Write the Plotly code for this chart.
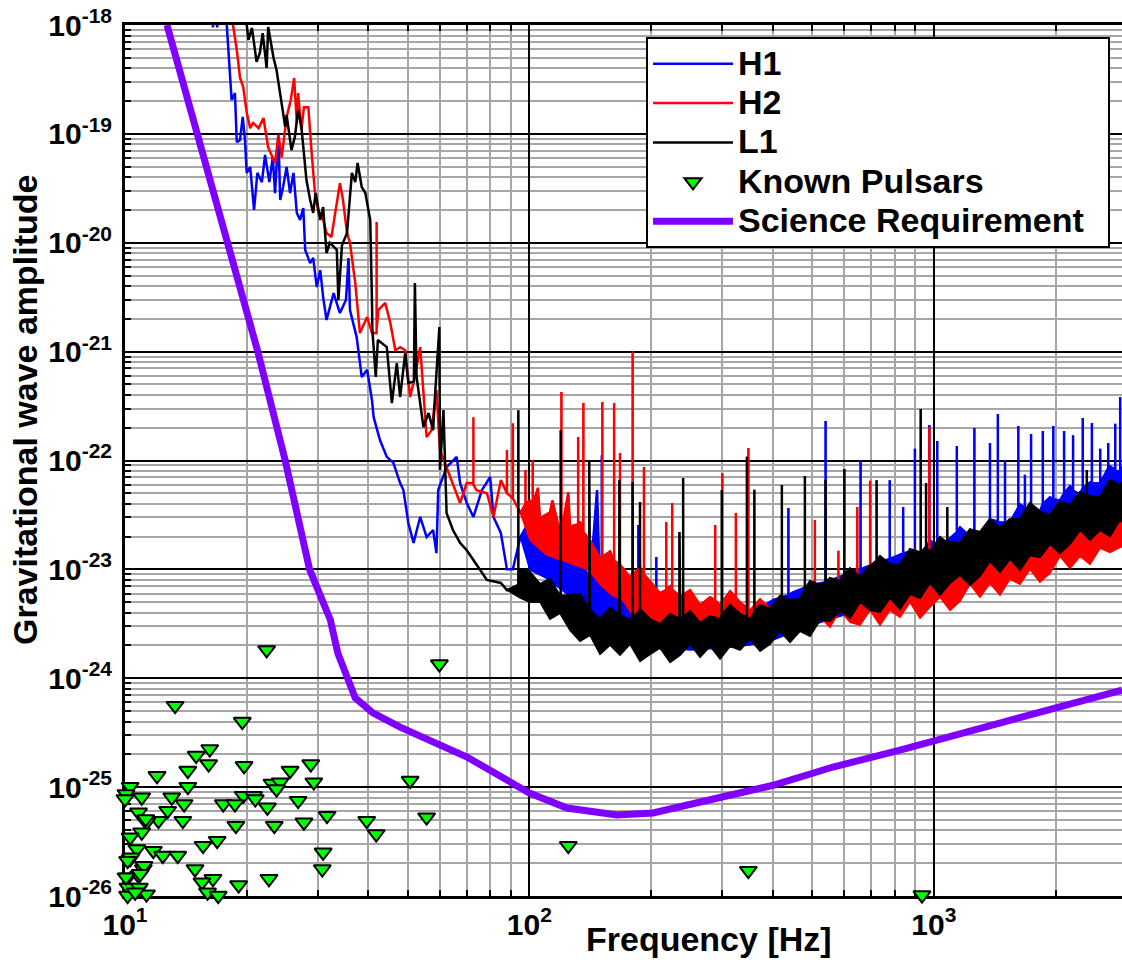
import math
import plotly.graph_objects as go

# ---------------- data ----------------
# H1 (blue): trace (upper envelope incl. lines) and the floor of its dense band
H1_FREQ = [
    16.4, 16.5, 16.6, 16.8, 16.9, 17.0, 17.7, 17.85,
    18.2, 18.35, 18.7, 18.9, 19.25, 19.55, 19.8, 20.0,
    20.4, 20.85, 21.25, 21.8, 22.2, 22.75, 23.2, 23.5,
    23.95, 24.2, 24.6, 25.1, 25.6, 26.1, 26.6, 27.1,
    27.6, 27.9, 28.7, 29.2, 29.8, 30.4, 30.9, 31.5,
    32.8, 34.0, 35.2, 35.7, 36.0, 37.4, 38.5, 39.7,
    40.8, 41.2, 42.7, 44.4, 46.1, 47.9, 48.8, 50.2,
    51.7, 53.7, 55.7, 57.8, 58.9, 59.5, 62.4, 66.1,
    67.4, 70.0, 72.7, 76.3, 80.0, 81.5, 85.0, 88.0,
    91.0, 95.0,
    100.3, 106.2, 109, 112.4, 119.0, 126.0, 133.4, 141.2,
    147, 149.5, 151, 151, 151, 158.3, 167.5, 177.4,
    186, 186, 186, 187.8, 198.8, 206, 206, 206,
    215, 230, 250, 270, 300, 330, 350, 380,
    400, 437, 437, 437, 450, 500, 540, 540,
    540, 600, 659, 659, 659, 700, 778, 778,
    778, 800, 840, 840, 840, 873.3, 898, 898,
    898, 924.6, 975, 975, 975, 978.6, 1020, 1020,
    1020, 1036, 1097, 1140, 1140, 1140, 1161, 1229,
    1260, 1260, 1260, 1301, 1377, 1377, 1377, 1440,
    1440, 1440, 1458, 1500, 1500, 1500, 1543, 1618,
    1618, 1618, 1634, 1680, 1680, 1680, 1729, 1740,
    1740, 1740, 1830, 1860, 1860, 1860, 1938, 1975,
    1975, 1975, 2051, 2100, 2100, 2100, 2172, 2210,
    2210, 2210, 2299, 2335, 2335, 2335, 2434, 2460,
    2460, 2460, 2576, 2580, 2580, 2580, 2700, 2700,
    2700, 2727, 2810, 2810, 2810, 2887, 2890, 2890,
    2890, 2950,
]
H1_AMP = [
    1.3e-18, 9.5e-19, 1.3e-18, 1.3e-18, 9.5e-19, 1.3e-18, 1.3e-18, 1.0e-18,
    3.3e-19, 2.05e-19, 2.37e-19, 8.4e-20, 8.8e-20, 1.43e-19, 8.8e-20, 4.38e-20,
    4.96e-20, 2.0e-20, 4.38e-20, 3.6e-20, 6.4e-20, 3.6e-20, 6.1e-20, 2.86e-20,
    1.0e-19, 2.47e-20, 3.25e-20, 4.96e-20, 2.86e-20, 4.38e-20, 1.88e-20, 1.62e-20,
    2.08e-20, 8.6e-21, 6.5e-21, 7.25e-21, 3.92e-21, 5.6e-21, 3.17e-21, 1.95e-21,
    3.45e-21, 2.26e-21, 3.0e-21, 7.25e-21, 2.41e-21, 1.36e-21, 5.85e-22, 6.8e-22,
    3.6e-22, 2.5e-22, 1.54e-22, 1.08e-22, 9.5e-23, 6.2e-23, 5.35e-23, 2.67e-23,
    1.75e-23, 3.03e-23, 1.98e-23, 2.3e-23, 1.41e-23, 5.35e-23, 8.7e-23, 1.08e-22,
    6.2e-23, 4.07e-23, 3.03e-23, 5.35e-23, 7.05e-23, 3.03e-23, 2.16e-23, 1.0e-23,
    1.0e-23, 1.98e-23,
    2.82e-23, 1.85e-23, 3.16e-23, 2.43e-23, 1.21e-23, 1.26e-23, 1.37e-23, 7.62e-24,
    5.35e-23, 6.04e-24, 6.5e-24, 1.12e-22, 6.5e-24, 7.95e-24, 5.43e-24, 4.40e-24,
    5.0e-24, 2.56e-23, 5.0e-24, 5.91e-24, 4.59e-24, 5.0e-24, 1.3e-23, 5.0e-24,
    4.91e-24, 5.5e-24, 4.41e-24, 4.9e-24, 4.06e-24, 4.5e-24, 4.06e-24, 4.6e-24,
    5.23e-24, 5.8e-24, 3.66e-23, 5.8e-24, 6.19e-24, 7.18e-24, 7.6e-24, 2.3e-22,
    7.6e-24, 8.85e-24, 1.0e-23, 1.0e-22, 1.0e-23, 1.1e-23, 1.25e-23, 6.6e-23,
    1.25e-23, 1.3e-23, 1.4e-23, 3.74e-23, 1.4e-23, 1.46e-23, 1.4e-23, 1.28e-22,
    1.4e-23, 1.34e-23, 1.8e-23, 2.12e-22, 1.8e-23, 1.85e-23, 1.6e-23, 1.51e-22,
    1.6e-23, 1.50e-23, 1.93e-23, 2.2e-23, 1.36e-22, 2.2e-23, 2.43e-23, 2.01e-23,
    2.0e-23, 1.99e-22, 2.0e-23, 1.97e-23, 2.88e-23, 1.45e-22, 2.88e-23, 2.75e-23,
    2.67e-22, 2.75e-23, 2.70e-23, 2.7e-23, 1.0e-22, 2.7e-23, 2.70e-23, 3.7e-23,
    2.07e-22, 3.7e-23, 3.95e-23, 3.7e-23, 7.4e-23, 3.7e-23, 3.56e-23, 3.5e-23,
    1.75e-22, 3.5e-23, 3.41e-23, 4.0e-23, 1.87e-22, 4.0e-23, 4.59e-23, 4.4e-23,
    2.07e-22, 4.4e-23, 4.30e-23, 5.0e-23, 1.87e-22, 5.0e-23, 5.79e-23, 5.3e-23,
    1.71e-22, 5.3e-23, 4.89e-23, 5.6e-23, 2.46e-22, 5.6e-23, 6.30e-23, 6.2e-23,
    2.21e-22, 6.2e-23, 6.17e-23, 6.2e-23, 1.28e-22, 6.2e-23, 8.5e-23, 1.45e-22,
    8.5e-23, 8.83e-23, 8.2e-23, 2.17e-22, 8.2e-23, 7.95e-23, 8.0e-23, 3.83e-22,
    8.0e-23, 9.02e-23,
]
H1_FLOOR_FREQ = [95, 100.3, 110, 120, 130, 140, 150, 160, 170, 180, 200, 220, 250, 300,
                 350, 400, 450, 500, 600, 700, 800, 1000, 1200, 1500, 1800, 2000, 2400, 2950]
H1_FLOOR_AMP = [1.98e-23, 9.87e-24, 8.32e-24, 6.46e-24, 5.23e-24, 4.23e-24, 3.43e-24,
                2.89e-24, 2.5e-24, 2.24e-24, 2.02e-24, 1.9e-24, 1.82e-24, 1.9e-24,
                2.02e-24, 2.24e-24, 2.66e-24, 3.08e-24, 3.81e-24, 4.7e-24, 5.46e-24,
                7.18e-24, 9.24e-24, 1.22e-23, 1.57e-23, 1.78e-23, 2.3e-23, 2.9e-23]

# H2 (red)
H2_FREQ = [
    18.4, 18.5, 18.9, 19.25, 19.6, 20.0, 20.4, 20.75,
    21.4, 22.0, 22.6, 23.1, 23.5, 23.95, 24.4, 25.1,
    25.7, 26.2, 26.6, 26.8, 27.3, 27.7, 28.4, 29.0,
    29.5, 30.1, 30.6, 31.5, 32.4, 33.1, 34.0, 34.6,
    35.4, 36.0, 37.1, 38.1, 39.7, 40.8, 41.9, 41.9,
    41.9, 42.3, 44.0, 45.3, 46.6, 47.9, 49.3, 50.7,
    52.1, 53.7, 54.7, 55.7, 57.3, 58.9, 60.1, 62.4,
    64.7, 67.4, 70.0, 72.7, 72.7, 72.7, 74.0, 78.5,
    81.5, 85.0, 88.0, 88.0, 88.0, 91.0, 91.0, 91.0,
    95.0, 97.8, 97.8, 97.8,
    100.3, 101.9, 101.9, 101.9, 105, 106.2, 112.4, 114,
    119.0, 120, 120, 120, 124.8, 126.0, 132, 132,
    132, 133.4, 136, 136, 136, 141.2, 149.5, 151.5,
    151.5, 151.5, 158.3, 162, 162, 162, 167.5, 167.5,
    167.5, 177.4, 180, 180, 180, 187.8, 192, 192,
    192, 198.8, 210.4, 218, 218, 218, 222.8, 225.5,
    225.5, 225.5, 235.9, 249.7, 264.3, 279.8, 288, 288,
    288, 296.2, 300, 300, 300, 313.5, 324, 324,
    324, 331.9, 348, 348, 348, 351.4, 371.9, 393.6,
    416.7, 441.1, 467.0, 494.3, 508, 508, 508, 581,
    581, 581, 647, 647, 647, 696, 696, 696,
    800, 900, 975, 975, 975, 1000, 1200, 1500,
    1800, 2000, 2400, 2950,
]
H2_AMP = [
    1.2e-18, 1.0e-18, 5.9e-19, 3.26e-19, 2.7e-19, 1.56e-19, 1.13e-19, 1.26e-19,
    1.13e-19, 1.4e-19, 7.5e-20, 6.1e-20, 5.4e-20, 9.8e-20, 6.1e-20, 1.43e-19,
    2.05e-19, 3.26e-19, 1.26e-19, 2.37e-19, 1.09e-19, 1.76e-19, 1.76e-19, 6.1e-20,
    2.86e-20, 1.88e-20, 1.88e-20, 1.23e-20, 1.13e-20, 1.88e-20, 3.52e-20, 2.47e-20,
    1.23e-20, 1.0e-20, 4.27e-21, 1.48e-21, 2.08e-21, 1.48e-21, 1.48e-21, 1.55e-20,
    1.6e-21, 2.41e-21, 2.8e-21, 1.83e-21, 1.03e-21, 1.1e-21, 1.03e-21, 3.83e-22,
    5.85e-22, 1.1e-21, 4.43e-22, 1.64e-22, 1.9e-22, 4.43e-22, 1.25e-22, 8.7e-23,
    6.2e-23, 4.07e-23, 6.2e-23, 6.2e-23, 2.5e-22, 6.0e-23, 5.35e-23, 5.0e-23,
    3.03e-23, 6.6e-23, 5.0e-23, 1.25e-22, 5.0e-23, 4.5e-23, 2.2e-22, 4.5e-23,
    3.3e-23, 4.0e-23, 8.2e-23, 4.0e-23,
    4.30e-23, 4.0e-23, 1.0e-22, 4.0e-23, 5.6e-23, 2.94e-23, 3.34e-23, 4.3e-23,
    2.19e-23, 2.2e-23, 4.26e-22, 2.2e-23, 5.1e-23, 2.48e-23, 2.6e-23, 1.64e-22,
    2.6e-23, 2.76e-23, 2.2e-23, 3.37e-22, 2.2e-23, 1.85e-23, 1.26e-23, 1.3e-23,
    3.45e-22, 1.3e-23, 1.46e-23, 1.2e-23, 3.37e-22, 1.2e-23, 1.11e-23, 1.17e-22,
    1.11e-23, 8.47e-24, 9.0e-24, 1.0e-21, 9.0e-24, 1.04e-23, 9.0e-24, 8.7e-23,
    9.0e-24, 7.78e-24, 6.04e-24, 6.5e-24, 2.72e-23, 6.5e-24, 7.00e-24, 6.5e-24,
    4.07e-23, 6.5e-24, 5.67e-24, 6.43e-24, 4.68e-24, 5.55e-24, 5.2e-24, 2.56e-23,
    5.2e-24, 4.68e-24, 5.0e-24, 7.65e-23, 5.0e-24, 6.30e-24, 5.5e-24, 3.3e-23,
    5.5e-24, 4.99e-24, 4.3e-24, 1.3e-22, 4.3e-24, 4.21e-24, 5.32e-24, 4.30e-24,
    5.55e-24, 4.59e-24, 4.30e-24, 6.57e-24, 6.5e-24, 2.84e-23, 6.5e-24, 7.0e-24,
    1.48e-23, 7.0e-24, 7.5e-24, 3.74e-23, 7.5e-24, 8.0e-24, 6.5e-23, 8.0e-24,
    9.1e-24, 1.03e-23, 1.1e-23, 2.03e-22, 1.1e-23, 1.14e-23, 1.36e-23, 1.67e-23,
    1.95e-23, 2.2e-23, 2.6e-23, 3.3e-23,
]
H2_FLOOR_FREQ = [
    95, 100.3, 110, 120, 130, 140, 150, 160, 170, 180, 200, 220, 250, 300, 350, 400, 450,
    494.3, 523.3, 553.9, 586.3, 620.7, 657.1, 695.5, 736.3, 779.4, 825.0,
    873.3, 924.6, 978.6, 1036, 1097, 1161, 1229, 1301, 1377, 1458,
    1543, 1634, 1729, 1830, 1938, 2051, 2172, 2299, 2434, 2576,
    2727, 2887, 2950,
]
H2_FLOOR_AMP = [
    3.3e-23, 1.86e-23, 1.36e-23, 1.22e-23, 1.1e-23, 9.87e-24, 7.18e-24, 5.81e-24, 5.23e-24,
    3.81e-24, 2.77e-24, 2.5e-24, 2.5e-24, 2.66e-24, 2.89e-24, 2.89e-24, 2.77e-24,
    3.07e-24, 3.63e-24, 2.94e-24, 4.21e-24, 3.27e-24, 3.07e-24, 4.21e-24, 3.07e-24, 4.21e-24, 3.63e-24,
    4.99e-24, 3.56e-24, 4.49e-24, 5.55e-24, 4.21e-24, 5.10e-24, 7.30e-24, 5.55e-24, 7.46e-24, 5.79e-24,
    8.12e-24, 7.30e-24, 1.0e-23, 7.62e-24, 9.22e-24, 1.32e-23, 1.02e-23, 1.32e-23, 1.11e-23, 1.56e-23,
    1.43e-23, 1.59e-23, 1.63e-23,
]

# L1 (black)
L1_FREQ = [
    19.8, 20.0, 20.2, 20.6, 21.15, 21.55, 21.9, 22.4,
    22.6, 23.3, 23.7, 24.2, 24.9, 25.1, 25.8, 26.3,
    26.8, 27.3, 28.1, 28.7, 29.2, 29.6, 30.4, 30.9,
    31.5, 32.1, 33.4, 33.7, 34.4, 35.4, 36.4, 37.1,
    37.6, 38.5, 39.3, 39.7, 40.4, 40.8, 40.9, 41.7,
    42.2, 44.4, 45.7, 47.0, 47.9, 49.3, 50.2, 51.8,
    52.1, 52.6, 54.7, 56.3, 57.8, 58.4, 59.9, 60.1,
    61.3, 62.4, 64.7, 67.4, 70.0, 72.7, 75.5, 78.5,
    85.0, 88.0, 93.9, 93.9, 93.9,
    95, 100.3, 106.2, 112.4, 119.0, 119.5, 119.5, 119.5,
    126.0, 133.4, 140.6, 140.6, 140.6, 141.2, 149.5, 158.3,
    166.9, 166.9, 166.9, 167.5, 177.4, 180, 180, 180,
    187.7, 187.7, 187.7, 187.8, 198.8, 210.4, 222.8, 235,
    235, 235, 235.9, 240, 240, 240, 249.7, 264.3,
    279.8, 296.2, 299, 299, 299, 313.5, 331.9, 345,
    345, 345, 351.4, 360, 360, 360, 371.9, 393.6,
    416.7, 421, 421, 421, 441.1, 467.0, 480, 480,
    480, 494.3, 523.3, 540, 540, 540, 553.9, 586.3,
    601, 601, 601, 620.7, 657.1, 695.5, 722, 722,
    722, 736.3, 779.4, 825.0, 873.3, 924.6, 928, 928,
    928, 957, 957, 957, 978.6, 1036, 1080, 1080,
    1080, 1097, 1161, 1229, 1301, 1377, 1458, 1543,
    1634, 1729, 1830, 1938, 2051, 2172, 2299, 2390,
    2390, 2390, 2434, 2576, 2727, 2887, 2950,
]
L1_AMP = [
    1.1e-18, 1.0e-18, 7.3e-19, 9.4e-19, 4.58e-19, 5.53e-19, 8.4e-19, 4.03e-19,
    9.6e-19, 4.98e-19, 3.86e-19, 2.37e-19, 1.16e-19, 1.49e-19, 7.1e-20, 9.35e-20,
    1.66e-19, 1.16e-19, 3.77e-20, 2.47e-20, 1.88e-20, 2.86e-20, 1.62e-20, 2.13e-20,
    8.05e-21, 1.0e-20, 8.6e-21, 2.97e-21, 9.5e-21, 1.23e-20, 4.38e-20, 3.6e-20,
    5.4e-20, 3.25e-20, 2.86e-20, 2.32e-20, 1.62e-20, 2.97e-21, 1.58e-21, 5.85e-22,
    1.28e-21, 1.1e-21, 3.37e-22, 7.85e-22, 3.83e-22, 9.7e-22, 5.15e-22, 5.3e-22,
    4.27e-21, 5.85e-22, 2.03e-22, 2.73e-22, 1.9e-22, 3.83e-22, 1.68e-21, 8.2e-23,
    2.9e-22, 3.3e-23, 2.3e-23, 1.75e-23, 1.5e-23, 1.22e-23, 1.0e-23, 8.0e-24,
    7.5e-24, 6.45e-24, 7.2e-24, 2.9e-22, 7.2e-24,
    1.0e-23, 9.41e-24, 7.30e-24, 8.12e-24, 5.67e-24, 5.7e-24, 1.9e-22, 5.7e-24,
    5.79e-24, 5.91e-24, 4.3e-24, 1.0e-22, 4.3e-24, 4.21e-24, 3.48e-24, 4.40e-24,
    3.8e-24, 6.6e-23, 3.8e-24, 3.79e-24, 3.41e-24, 3.6e-24, 6.3e-23, 3.6e-24,
    4.2e-24, 4.15e-23, 4.2e-24, 4.30e-24, 3.48e-24, 3.13e-24, 3.87e-24, 3.5e-24,
    2.2e-23, 3.5e-24, 3.41e-24, 3.6e-24, 6.9e-23, 3.6e-24, 4.13e-24, 3.20e-24,
    3.71e-24, 3.48e-24, 3.8e-24, 5.35e-23, 3.8e-24, 4.68e-24, 3.87e-24, 3.6e-24,
    1.08e-22, 3.6e-24, 3.48e-24, 4.0e-24, 5.4e-23, 4.0e-24, 4.68e-24, 4.30e-24,
    5.67e-24, 5.6e-24, 5.95e-23, 5.6e-24, 5.21e-24, 5.32e-24, 6.5e-24, 7.2e-23,
    6.5e-24, 7.78e-24, 7.15e-24, 7.6e-24, 6.6e-23, 7.6e-24, 8.29e-24, 7.78e-24,
    9.0e-24, 8.35e-23, 9.0e-24, 1.02e-23, 8.47e-24, 1.07e-23, 1.2e-23, 6.6e-23,
    1.2e-23, 1.32e-23, 1.11e-23, 1.09e-23, 1.53e-23, 1.43e-23, 1.43e-23, 2.97e-22,
    1.43e-23, 1.6e-23, 6.2e-23, 1.6e-23, 1.43e-23, 1.97e-23, 1.75e-23, 3.74e-23,
    1.75e-23, 1.77e-23, 1.73e-23, 2.33e-23, 2.19e-23, 2.88e-23, 2.38e-23, 2.88e-23,
    2.88e-23, 4.04e-23, 3.41e-23, 3.13e-23, 4.21e-23, 3.87e-23, 5.10e-23, 4.8e-23,
    8.2e-23, 4.8e-23, 4.68e-23, 4.59e-23, 6.57e-23, 5.91e-23, 6.57e-23,
]
L1_FLOOR_FREQ = [
    88, 95, 100.3, 106.2, 112.4, 119.0, 126.0, 133.4, 141.2, 149.5, 158.3,
    167.5, 177.4, 187.8, 198.8, 210.4, 222.8, 235.9, 249.7, 264.3, 279.8,
    296.2, 313.5, 331.9, 351.4, 371.9, 393.6, 416.7, 441.1, 467.0, 494.3,
    523.3, 553.9, 586.3, 620.7, 657.1, 695.5, 736.3, 779.4, 825.0, 873.3,
    924.6, 978.6, 1036, 1097, 1161, 1229, 1301, 1377, 1458, 1543,
    1634, 1729, 1830, 1938, 2051, 2172, 2299, 2434, 2576, 2727,
    2887, 2950,
]
L1_FLOOR_AMP = [
    6.45e-24, 5.46e-24, 4.99e-24, 4.99e-24, 3.48e-24, 3.95e-24, 2.76e-24, 2.19e-24, 2.48e-24, 1.66e-24, 2.01e-24,
    1.63e-24, 2.05e-24, 1.43e-24, 1.66e-24, 1.89e-24, 1.40e-24, 1.63e-24, 2.05e-24, 1.56e-24, 1.97e-24,
    1.50e-24, 1.97e-24, 1.81e-24, 2.28e-24, 1.77e-24, 2.05e-24, 2.70e-24, 2.14e-24, 2.70e-24, 2.43e-24,
    3.41e-24, 3.34e-24, 4.13e-24, 3.56e-24, 4.99e-24, 4.21e-24, 4.04e-24, 5.43e-24, 4.30e-24, 5.91e-24,
    5.43e-24, 7.46e-24, 5.79e-24, 7.46e-24, 8.83e-24, 7.15e-24, 8.65e-24, 1.18e-23, 9.41e-24, 1.24e-23,
    9.82e-24, 1.34e-23, 1.29e-23, 1.70e-23, 1.40e-23, 1.70e-23, 2.28e-23, 1.85e-23, 2.28e-23, 2.01e-23,
    2.82e-23, 2.65e-23,
]

# Known pulsars (upper limits)
PULSAR_FREQ = [
    22.4, 13.3, 19.5, 16.2, 15.0, 16.1, 14.3, 19.7, 28.8, 12.0,
    25.6, 14.3, 10.3, 23.1, 24.2, 23.7, 29.3, 11.0, 13.05, 19.6,
    20.8, 21.0, 17.5, 18.7, 14.0, 26.8, 22.5, 12.75, 10.8, 31.6,
    12.1, 13.9, 11.3, 18.8, 23.4, 27.7, 11.0, 10.3, 16.9, 15.6,
    10.7, 11.75, 12.4, 13.5, 30.9, 10.3, 14.9, 30.75, 11.1, 10.8,
    16.5, 22.7, 10.17, 15.5, 19.1, 16.0, 17.0, 10.8, 11.3, 10.17,
    10.06, 11.25, 10.35, 10.15, 11.14, 10.06, 10.9, 10.85, 10.15, 10.6,
    50.7, 39.6, 41.8, 55.7, 59.9, 124.8, 347.8, 935, 10.0,
]
PULSAR_AMP = [
    1.82e-24, 5.6e-25, 4.0e-25, 2.24e-25, 1.95e-25, 1.63e-25, 1.42e-25, 1.57e-25, 1.63e-25, 1.27e-25,
    1.42e-25, 1.01e-25, 1.01e-25, 1.08e-25, 1.11e-25, 9.6e-26, 1.11e-25, 8.07e-26, 8.07e-26, 8.35e-26,
    8.35e-26, 7.78e-26, 7.0e-26, 7.0e-26, 7.0e-26, 7.5e-26, 6.53e-26, 6.08e-26, 5.87e-26, 5.47e-26,
    4.92e-26, 4.92e-26, 4.75e-26, 4.42e-26, 4.42e-26, 4.75e-26, 3.85e-26, 3.46e-26, 3.22e-26, 2.9e-26,
    2.7e-26, 2.61e-26, 2.35e-26, 2.35e-26, 2.52e-26, 2.19e-26, 1.77e-26, 1.77e-26, 1.77e-26, 1.54e-26,
    1.44e-26, 1.44e-26, 1.49e-26, 1.34e-26, 1.26e-26, 1.08e-26, 1.01e-26, 1.16e-26, 1.04e-26, 1.2e-26,
    8.65e-26, 5.1e-26, 2.27e-26, 2.11e-26, 1.9e-26, 1.49e-26, 1.6e-26, 1.2e-26, 1.01e-26, 1.08e-26,
    1.15e-25, 4.92e-26, 3.71e-26, 5.29e-26, 1.35e-24, 2.9e-26, 1.71e-26, 1.02e-26, 7.78e-26,
]

# Science requirement curve
SRD_FREQ = [12.7, 15.1, 18.0, 21.3, 24.9, 28.6, 32.2, 33.6, 37.1, 41.0, 47.9, 70.1,
            100, 123.9, 164.7, 202.1, 299.5, 400.4, 563.4, 825, 2920]
SRD_AMP = [1e-18, 1e-19, 1e-20, 1e-21, 1e-22, 1e-23, 3.43e-24, 1.7e-24, 6.6e-25, 4.8e-25,
           3.56e-25, 1.89e-25, 8.83e-26, 6.43e-26, 5.55e-26, 5.79e-26, 8.12e-26, 1.04e-25,
           1.53e-25, 2.19e-25, 7.78e-25]

X_TICKS = [10, 100, 1000]
X_TICK_TEXT = ["10<sup>1</sup>", "10<sup>2</sup>", "10<sup>3</sup>"]
Y_TICKS = [1e-26, 1e-25, 1e-24, 1e-23, 1e-22, 1e-21, 1e-20, 1e-19, 1e-18]
Y_TICK_TEXT = ["10<sup>-26</sup>", "10<sup>-25</sup>", "10<sup>-24</sup>", "10<sup>-23</sup>",
               "10<sup>-22</sup>", "10<sup>-21</sup>", "10<sup>-20</sup>", "10<sup>-19</sup>",
               "10<sup>-18</sup>"]

# ---------------- figure ----------------
FONT = "Liberation Sans, Arial, Helvetica, sans-serif"
W, H = 1122, 962
ML, MR, MT, MB = 125, 0, 25, 66
PW, PH = W - ML - MR, H - MT - MB

fig = go.Figure()


def legend_label(text):
    return '<span style="font-size:34px">%s</span>' % text


def add_detector(label, color, freq, amp, floor_f, floor_a):
    start, stop = floor_f[0], floor_f[-1]
    band = [(f, a) for f, a in zip(freq, amp) if start <= f <= stop]
    bx = [p[0] for p in band] + floor_f[::-1]
    by = [p[1] for p in band] + floor_a[::-1]
    fig.add_trace(go.Scatter(x=bx, y=by, mode="lines", fill="toself", fillcolor=color,
                             line=dict(color=color, width=1.5), showlegend=False,
                             hoverinfo="skip"))
    fig.add_trace(go.Scatter(x=freq, y=amp, mode="lines",
                             line=dict(color=color, width=2.5),
                             name=legend_label(label)))


add_detector("H1", "#0000ff", H1_FREQ, H1_AMP, H1_FLOOR_FREQ, H1_FLOOR_AMP)
add_detector("H2", "#ff0000", H2_FREQ, H2_AMP, H2_FLOOR_FREQ, H2_FLOOR_AMP)
add_detector("L1", "#000000", L1_FREQ, L1_AMP, L1_FLOOR_FREQ, L1_FLOOR_AMP)

fig.add_trace(go.Scatter(
    x=PULSAR_FREQ, y=PULSAR_AMP, mode="markers", cliponaxis=False,
    marker=dict(symbol="triangle-down", size=15, color="#00ff00",
                line=dict(color="black", width=2)),
    name=legend_label("Known Pulsars")))

fig.add_trace(go.Scatter(
    x=SRD_FREQ, y=SRD_AMP, mode="lines", line=dict(color="#7f00ff", width=7),
    name=legend_label("Science Requirement\u00a0\u00a0")))

minor_x = [m * 10 ** e for e in range(1, 4) for m in range(2, 10)]
minor_y = [m * 10.0 ** e for e in range(-26, -18) for m in range(2, 10)]

axis_common = dict(
    type="log", showline=True, linecolor="black", linewidth=3,
    ticks="inside", tickcolor="black", tickwidth=2, ticklen=11,
    tickfont=dict(family=FONT, size=30, color="black", weight="bold"),
    showgrid=True, gridcolor="black", gridwidth=1.5, zeroline=False,
    layer="below traces", tickmode="array",
)

fig.update_layout(
    width=W, height=H, autosize=False,
    margin=dict(l=ML, r=MR, t=MT, b=MB),
    paper_bgcolor="white", plot_bgcolor="white",
    font=dict(family=FONT, color="black"),
    xaxis=dict(axis_common, range=[1, math.log10(2920)], mirror="ticks",
               tickvals=X_TICKS, ticktext=X_TICK_TEXT,
               minor=dict(tickmode="array", tickvals=minor_x, ticks="inside",
                          ticklen=6, tickwidth=1.5, tickcolor="black",
                          showgrid=True, gridcolor="#a6a6a6", gridwidth=2)),
    yaxis=dict(axis_common, range=[-26, -18], ticklabelstandoff=4,
               tickvals=Y_TICKS, ticktext=Y_TICK_TEXT,
               minor=dict(tickmode="array", tickvals=minor_y, ticks="inside",
                          ticklen=6, tickwidth=1.5, tickcolor="black",
                          showgrid=True, gridcolor="#a6a6a6", gridwidth=2)),
    legend=dict(x=(646 - ML) / PW, y=(H - MB - 37) / PH, xanchor="left", yanchor="top",
                bgcolor="white", bordercolor="black", borderwidth=2,
                font=dict(family=FONT, size=28, color="black", weight="bold"),
                itemwidth=80, tracegroupgap=0),
    showlegend=True,
    annotations=[
        dict(text="<b>Frequency [Hz]</b>", xref="paper", yref="paper",
             x=(709 - ML) / PW, y=-(939 - (H - MB)) / PH, xanchor="center",
             yanchor="middle", showarrow=False,
             font=dict(family=FONT, size=34, color="black")),
        dict(text="<b>Gravitational wave amplitude</b>", xref="paper", yref="paper",
             x=(25 - ML) / PW, y=((H - MB) - 410) / PH, xanchor="center",
             yanchor="middle", showarrow=False, textangle=-90,
             font=dict(family=FONT, size=34, color="black")),
    ],
)

fig.write_html("out.html")
